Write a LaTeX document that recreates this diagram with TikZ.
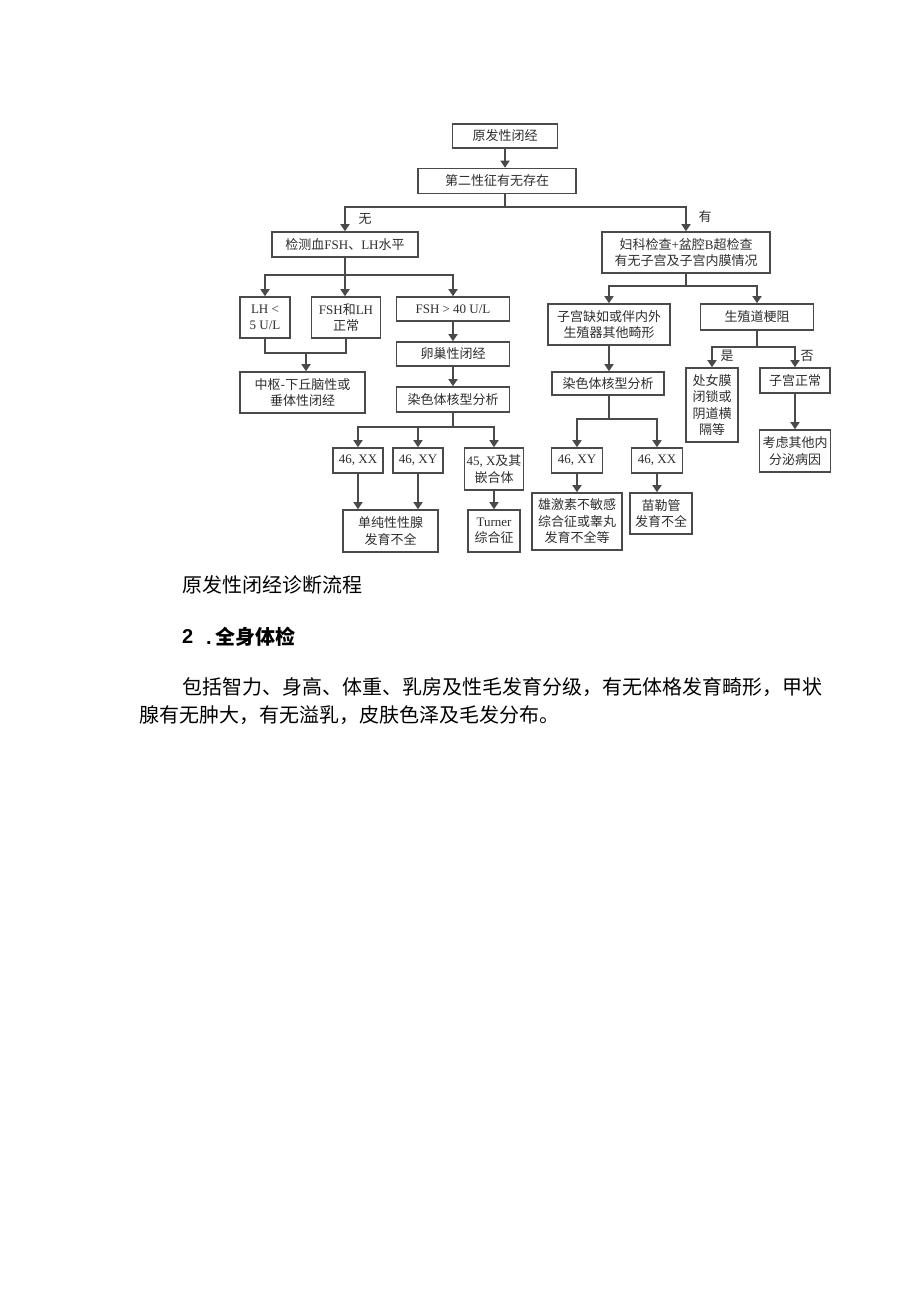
\documentclass[tikz,border=0pt]{standalone}
\usepackage{fontspec}
\setmainfont{Liberation Serif}
\newfontfamily\cjk{Noto Sans CJK SC}
\newfontfamily\sansb{Liberation Sans}
\usetikzlibrary{arrows.meta}
\definecolor{lc}{HTML}{4A4A4A}
\definecolor{tc}{HTML}{2E2E2E}
\newcommand\zh[1]{{\cjk #1}}
\begin{document}
\begin{tikzpicture}[x=1pt,y=-1pt,
 box/.style={draw=lc,line width=1.6pt,inner sep=0pt,align=center,text=tc,
   font=\fontsize{13}{16.5}\selectfont},
 ln/.style={draw=lc,line width=1.6pt},
 arr/.style={ln,-{Triangle[width=9pt,length=7pt]}},
 lab/.style={text=tc,inner sep=0pt,font=\fontsize{13}{16}\selectfont\cjk},
 body/.style={anchor=west,inner sep=0pt,text=black,font=\fontsize{20}{24}\selectfont\cjk}]
\useasboundingbox[fill=white] (0,0) rectangle (920,1301);

% ---- boxes ----
\node[box,minimum width=105pt,minimum height=24pt] (a) at (505,136) {\zh{原发性闭经}};
\node[box,minimum width=158pt,minimum height=25pt] (b) at (497,181) {\zh{第二性征有无存在}};
\node[box,minimum width=146pt,minimum height=25pt] (c) at (345,244.5) {\zh{检测血}FSH\zh{、}LH\zh{水平}};
\node[box,minimum width=168pt,minimum height=41pt] (d) at (686,252.5) {\zh{妇科检查}+\zh{盆腔}B\zh{超检查}\\\zh{有无子宫及子宫内膜情况}};
\node[box,minimum width=50pt,minimum height=41pt] (e) at (265,317.5) {LH <\\5 U/L};
\node[box,minimum width=69pt,minimum height=41pt] (f) at (346,317.5) {FSH\zh{和}LH\\\zh{正常}};
\node[box,minimum width=113pt,minimum height=24pt] (g) at (453,309) {FSH > 40 U/L};
\node[box,minimum width=113pt,minimum height=24pt] (h) at (453,354) {\zh{卵巢性闭经}};
\node[box,minimum width=113pt,minimum height=25pt] (i) at (453,399.5) {\zh{染色体核型分析}};
\node[box,minimum width=125pt,minimum height=41pt] (j) at (302.5,392.5) {\zh{中枢-下丘脑性或}\\\zh{垂体性闭经}};
\node[box,minimum width=50pt,minimum height=25pt] (k) at (358,460.5) {46, XX};
\node[box,minimum width=50pt,minimum height=25pt] (l) at (418,460.5) {46, XY};
\node[box,minimum width=59pt,minimum height=42pt] (m) at (494,469) {45, X\zh{及其}\\\zh{嵌合体}};
\node[box,minimum width=95pt,minimum height=42pt] (n) at (390.5,531) {\zh{单纯性性腺}\\\zh{发育不全}};
\node[box,minimum width=52pt,minimum height=42pt] (o) at (494,531) {Turner\\\zh{综合征}};
\node[box,minimum width=122pt,minimum height=41pt] (p) at (609,324.5) {\zh{子宫缺如或伴内外}\\\zh{生殖器其他畸形}};
\node[box,minimum width=113pt,minimum height=26pt] (q) at (757,317) {\zh{生殖道梗阻}};
\node[box,minimum width=112pt,minimum height=23pt] (r) at (608,383.5) {\zh{染色体核型分析}};
\node[box,minimum width=52pt,minimum height=74pt] (s) at (712,405) {\zh{处女膜}\\\zh{闭锁或}\\\zh{阴道横}\\\zh{隔等}};
\node[box,minimum width=70pt,minimum height=25pt] (t) at (795,380.5) {\zh{子宫正常}};
\node[box,minimum width=71pt,minimum height=42pt] (u) at (795,451) {\zh{考虑其他内}\\\zh{分泌病因}};
\node[box,minimum width=51pt,minimum height=25pt] (v) at (577,460.5) {46, XY};
\node[box,minimum width=51pt,minimum height=25pt] (w) at (657,460.5) {46, XX};
\node[box,minimum width=90pt,minimum height=57pt] (x) at (577,521.5) {\zh{雄激素不敏感}\\\zh{综合征或睾丸}\\\zh{发育不全等}};
\node[box,minimum width=62pt,minimum height=41pt] (y) at (661,513.5) {\zh{苗勒管}\\\zh{发育不全}};

% ---- junction points ----
\coordinate (bj) at (505,207);
\coordinate (cj) at (345,275);
\coordinate (ej) at (306,353);
\coordinate (ij) at (453,427);
\coordinate (dj) at (686,286);
\coordinate (rj) at (609,419);
\coordinate (qj) at (757,347);

% ---- connectors ----
\draw[arr] (a.south) -- (a.south |- b.north);
\draw[ln] (bj |- b.south) -- (bj);
\draw[arr] (bj) -| (c.north);
\draw[arr] (bj) -| (d.north);

\draw[ln] (c.south) -- (cj);
\draw[arr] (cj) -| (e.north);
\draw[arr] (cj) -- (cj |- f.north);
\draw[arr] (cj) -| (g.north);

\draw[ln] (e.south) |- (ej) -| (f.south);
\draw[arr] (ej) -- (ej |- j.north);

\draw[arr] (g.south) -- (h.north);
\draw[arr] (h.south) -- (i.north);
\draw[ln] (i.south) -- (ij);
\draw[arr] (ij) -| (k.north);
\draw[arr] (ij) -| (l.north);
\draw[arr] (ij) -| (m.north);
\draw[arr] (k.south) -- (k.south |- n.north);
\draw[arr] (l.south) -- (l.south |- n.north);
\draw[arr] (m.south) -- (o.north);

\draw[ln] (d.south) -- (dj);
\draw[arr] (dj) -| (p.north);
\draw[arr] (dj) -| (q.north);
\draw[arr] (p.south) -- (p.south |- r.north);
\draw[ln] (rj |- r.south) -- (rj);
\draw[arr] (rj) -| (v.north);
\draw[arr] (rj) -| (w.north);
\draw[arr] (v.south) -- (x.north);
\draw[arr] (w.south) -- (w.south |- y.north);
\draw[ln] (q.south) -- (qj);
\draw[arr] (qj) -| (s.north);
\draw[arr] (qj) -| (t.north);
\draw[arr] (t.south) -- (u.north);

% ---- branch labels ----
\node[lab] (lwu) at (365,219) {无};
\node[lab] (lyou) at (705,217) {有};
\node[lab] (lshi) at (727,356) {是};
\node[lab] (lfou) at (807,356) {否};

% ---- text below ----
\node[body] (cap) at (182,585) {原发性闭经诊断流程};
\node[anchor=west,inner sep=0pt,font=\fontsize{20}{24}\selectfont\sansb\bfseries] (sn) at (182,637) {2};
\node[anchor=west,inner sep=0pt,font=\fontsize{20}{24}\selectfont] (st) at (206,637) {{\sansb\bfseries .}\hspace{4pt}{\cjk\bfseries 全身体检}};
\node[body] (p1) at (182,687) {包括智力、身高、体重、乳房及性毛发育分级，有无体格发育畸形，甲状};
\node[body] (p2) at (139,715) {腺有无肿大，有无溢乳，皮肤色泽及毛发分布。};
\end{tikzpicture}
\end{document}
